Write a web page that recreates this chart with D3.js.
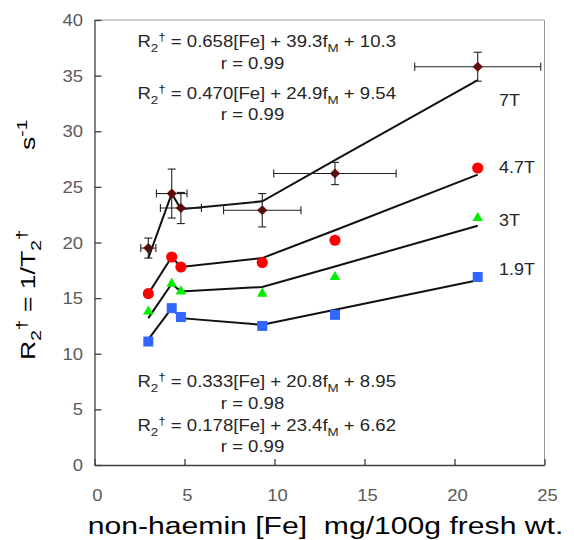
<!DOCTYPE html>
<html>
<head>
<meta charset="utf-8">
<script src="https://cdn.jsdelivr.net/npm/d3@7"></script>
<style>
  body { margin: 0; background: #fff; }
  text { font-family: "Liberation Sans", Arial, sans-serif; white-space: pre; }
</style>
</head>
<body>
<svg id="chart" width="574" height="540"></svg>
<script>
// non-haemin iron (x) with its spread, and R2+ per field strength
const feX = [2.99, 4.29, 4.8, 9.32, 13.36, 21.29]
const feXErr = [0.42, 0.85, 1.14, 2.15, 3.4, 3.5]

const r2_7T = [19.5, 24.4, 23.1, 22.9, 26.2, 35.8]
const r2_7T_err = [0.9, 2.2, 1.4, 1.5, 1.0, 1.3]
const fit_7T = [18.6, 24.4, 23.0, 23.7, 27.4, 34.6]

const r2_47T = [15.4, 18.7, 17.8, 18.2, 20.2, 26.7]
const fit_47T = [15.4, 18.7, 17.8, 18.6, 21.1, 26.1]

const r2_3T = [13.8, 16.3, 15.6, 15.4, 16.9, 22.2]
const fit_3T = [13.2, 16.3, 15.6, 16.0, 17.85, 21.5]

const r2_19T = [11.1, 14.1, 13.3, 12.5, 13.5, 16.9]
const fit_19T = [11.3, 14.1, 13.2, 12.6, 13.95, 16.6]

const fieldLabels = ['7T', '4.7T', '3T', '1.9T']
const xTicks = [0, 5, 10, 15, 20, 25]
const yTicks = [0, 5, 10, 15, 20, 25, 30, 35, 40]

const eqCoef = [
  ['0.658', '39.3', '10.3', '0.99'],
  ['0.470', '24.9', '9.54', '0.99'],
  ['0.333', '20.8', '8.95', '0.98'],
  ['0.178', '23.4', '6.62', '0.99']
]

const svg = d3.select('#chart')
const x = d3.scaleLinear().domain([0, 25]).range([94.5, 544.5])
const y = d3.scaleLinear().domain([0, 40]).range([465, 20])

// text helper: wide glyphs in the original, so stretch along the run
const addText = (g, px, py, anchor, size, sx, fill, rot) => g.append('text')
  .attr('transform', `translate(${px},${py})${rot ? ` rotate(${rot})` : ''} scale(${sx},1)`)
  .attr('text-anchor', anchor)
  .attr('font-size', size)
  .attr('fill', fill)

// parts: [text, 'sub' | 'sup' | undefined]
const rich = (t, parts, size) => {
  let off = 0
  parts.forEach(([s, kind]) => {
    const target = kind === 'sub' ? size * 0.3 : kind === 'sup' ? -size * 0.38 : 0
    t.append('tspan')
      .attr('dy', target - off)
      .attr('font-size', kind ? size * 0.72 : size)
      .text(s)
    off = target
  })
}

// frame
svg.append('line').attr('x1', x(0)).attr('x2', x(25)).attr('y1', y(40)).attr('y2', y(40))
  .attr('stroke', '#9a9a9a').attr('stroke-width', 1)
svg.append('line').attr('x1', x(25)).attr('x2', x(25)).attr('y1', y(40)).attr('y2', y(0))
  .attr('stroke', '#9a9a9a').attr('stroke-width', 1)

svg.append('g')
  .attr('transform', `translate(${x(0)},0)`)
  .call(d3.axisRight(y).tickValues(yTicks).tickSize(7).tickSizeOuter(0).tickFormat(''))
svg.append('g')
  .attr('transform', `translate(0,${y(0)})`)
  .call(d3.axisTop(x).tickValues(xTicks).tickSize(6).tickSizeOuter(0).tickFormat(''))
svg.selectAll('.domain, .tick line').attr('stroke', '#404040').attr('stroke-width', 1.3)

yTicks.forEach(v => addText(svg, 83, y(v) + 6, 'end', 16.5, 1.12, '#5a5a5a').text(v))
xTicks.forEach(v => addText(svg, x(v) + 3, 501, 'middle', 16.5, 1.12, '#5a5a5a').text(v))

// axis titles
addText(svg, 325.5, 534, 'middle', 23, 1.31, '#000').text('non-haemin [Fe]  mg/100g fresh wt.')
const yTitle = addText(svg, 34.5, 360, 'start', 20, 1.33, '#000', -90)
rich(yTitle, [['R'], ['2', 'sub'], ['†', 'sup'], [' = 1/T'], ['2', 'sub'], ['†', 'sup']], 20)
const yUnit = addText(svg, 34.5, 150, 'start', 20, 1.33, '#000', -90)
rich(yUnit, [['s'], ['-1', 'sup']], 20)

// equations
const eqBase = [46.7, 99, 386.7, 431]
eqCoef.forEach((c, i) => {
  const t = addText(svg, 266.7, eqBase[i], 'middle', 16, 1.16, '#262626')
  rich(t, [['R'], ['2', 'sub'], ['†', 'sup'], [` = ${c[0]}[Fe] + ${c[1]}f`], ['M', 'sub'], [` + ${c[2]}`]], 16)
  addText(svg, 252.5, eqBase[i] + (i % 2 === 0 ? 22.5 : 20.5), 'middle', 16, 1.16, '#262626').text(`r = ${c[3]}`)
})

// fit lines
const line = d3.line().x((d, i) => x(feX[i])).y(d => y(d))
const fits = [fit_7T, fit_47T, fit_3T, fit_19T]
svg.append('g').selectAll('path')
  .data(fits)
  .join('path')
  .attr('d', line)
  .attr('fill', 'none')
  .attr('stroke', '#111')
  .attr('stroke-width', 2)

// markers
const series = [
  { vals: r2_19T, sym: d3.symbolSquare, size: 100, color: '#3366ff', rot: 0 },
  { vals: r2_3T, sym: d3.symbolTriangle, size: 48, color: '#00ee00', rot: 0 },
  { vals: r2_47T, sym: d3.symbolCircle, size: 98, color: '#ff0000', rot: 0 },
  { vals: r2_7T, sym: d3.symbolSquare, size: 52, color: '#800000', rot: 45 }
]
series.forEach(s => {
  svg.append('g').selectAll('path')
    .data(s.vals)
    .join('path')
    .attr('d', d3.symbol(s.sym, s.size))
    .attr('transform', (d, i) => `translate(${x(feX[i])},${y(d)}) rotate(${s.rot})`)
    .attr('fill', s.color)
})

// error bars on the 7T set
const eb = svg.append('g').attr('stroke', '#222').attr('stroke-width', 1.1)
r2_7T.forEach((v, i) => {
  const cx = x(feX[i]), cy = y(v)
  const x0 = x(feX[i] - feXErr[i]), x1 = x(feX[i] + feXErr[i])
  const y0 = y(v - r2_7T_err[i]), y1 = y(v + r2_7T_err[i])
  eb.append('line').attr('x1', x0).attr('x2', x1).attr('y1', cy).attr('y2', cy)
  eb.append('line').attr('x1', x0).attr('x2', x0).attr('y1', cy - 4).attr('y2', cy + 4)
  eb.append('line').attr('x1', x1).attr('x2', x1).attr('y1', cy - 4).attr('y2', cy + 4)
  eb.append('line').attr('x1', cx).attr('x2', cx).attr('y1', y0).attr('y2', y1)
  eb.append('line').attr('x1', cx - 4).attr('x2', cx + 4).attr('y1', y0).attr('y2', y0)
  eb.append('line').attr('x1', cx - 4).attr('x2', cx + 4).attr('y1', y1).attr('y2', y1)
})

// field strength labels
const labelBase = [106, 173, 225.7, 275]
fieldLabels.forEach((l, i) => addText(svg, 499, labelBase[i], 'start', 16, 1.12, '#262626').text(l))
</script>
</body>
</html>
